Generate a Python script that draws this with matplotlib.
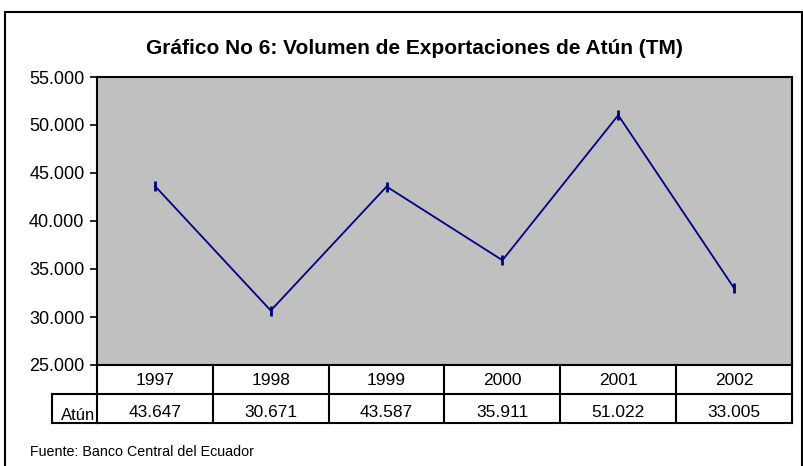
import matplotlib.pyplot as plt
import matplotlib.transforms as mtransforms
from matplotlib.patches import Rectangle

plt.rcParams['font.family'] = ['Liberation Sans', 'DejaVu Sans']

# data
years = ["1997", "1998", "1999", "2000", "2001", "2002"]
atun = [43647, 30671, 43587, 35911, 51022, 33005]
series_name = "Atún"

W, H = 804, 466
fig = plt.figure(figsize=(W / 100, H / 100), dpi=100)

# outer frame of the chart
fig.patches.append(Rectangle((5 / W, -0.01), 797 / W, 1 - 12 / H + 0.01,
                             transform=fig.transFigure, fill=False,
                             edgecolor="black", linewidth=1.5))

left, right, top, bottom = 97, 792, 77, 365
ax = fig.add_axes([left / W, 1 - bottom / H, (right - left) / W, (bottom - top) / H])
ax.set_facecolor("#c0c0c0")

x = list(range(len(years)))
ax.plot(x, atun, color="#000080", linewidth=1.3, marker="|", markersize=7,
        markeredgewidth=2)

ax.set_xlim(-0.5, len(years) - 0.5)
ax.set_ylim(25000, 55000)
yticks = list(range(25000, 55001, 5000))
ax.set_yticks(yticks)
ax.set_yticklabels([f"{v:,}".replace(",", ".") for v in yticks], fontsize=13)
ax.tick_params(axis="y", length=5, width=1.2, pad=4)
ax.set_xticks([])
for s in ax.spines.values():
    s.set_linewidth(1.5)

# data table below the plot
row_h = 29 / (bottom - top)
trans = mtransforms.blended_transform_factory(ax.transData, ax.transAxes)
lw = 1.5
ax.plot([-0.5, 5.5], [-row_h, -row_h], transform=trans, color="black", lw=lw, clip_on=False)
ax.plot([-0.5, 5.5], [-2 * row_h, -2 * row_h], transform=trans, color="black", lw=lw, clip_on=False)
for i in range(len(years) + 1):
    ax.plot([i - 0.5, i - 0.5], [0, -2 * row_h], transform=trans, color="black", lw=lw, clip_on=False)
for i, (yr, v) in enumerate(zip(years, atun)):
    ax.text(i, -0.55 * row_h, yr, transform=trans, ha="center", va="center", fontsize=12.5)
    ax.text(i, -1.63 * row_h, f"{v:,}".replace(",", "."), transform=trans,
            ha="center", va="center", fontsize=12.5)

# series label box
lab_left = 52 / W
fig.add_artist(plt.Line2D([lab_left, left / W], [1 - 394 / H, 1 - 394 / H],
                          color="black", lw=lw, transform=fig.transFigure))
fig.add_artist(plt.Line2D([lab_left, left / W], [1 - 423 / H, 1 - 423 / H],
                          color="black", lw=lw, transform=fig.transFigure))
fig.add_artist(plt.Line2D([lab_left, lab_left], [1 - 394 / H, 1 - 423 / H],
                          color="black", lw=lw, transform=fig.transFigure))
fig.text(left / W - 2 / W, 1 - 415 / H, series_name, ha="right", va="center", fontsize=12)

fig.text(0.5 * (left + right) / W - 30 / W, 1 - 48 / H,
         "Gráfico No 6: Volumen de Exportaciones de Atún (TM)",
         ha="center", va="center", fontsize=15, fontweight="bold")
fig.text(30 / W, 1 - 452 / H, "Fuente: Banco Central del Ecuador",
         ha="left", va="center", fontsize=10.3)

fig.savefig("out.png", dpi=100)
